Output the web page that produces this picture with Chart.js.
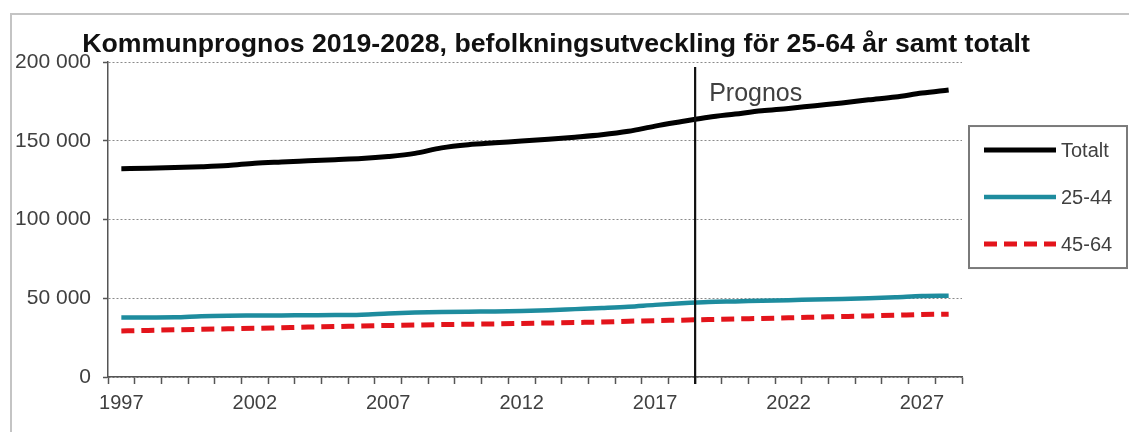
<!DOCTYPE html>
<html>
<head>
<meta charset="utf-8">
<script src="https://cdn.jsdelivr.net/npm/chart.js@4"></script>
<style>
	html, body { margin: 0; padding: 0; background: #fff; overflow: hidden; }
	#wrap { position: relative; width: 1129px; height: 432px; }
</style>
</head>
<body>
<div id="wrap"><canvas id="line-chart"></canvas></div>
<script>
const years = [
	'1997', '1998', '1999', '2000', '2001', '2002', '2003', '2004',
	'2005', '2006', '2007', '2008', '2009', '2010', '2011', '2012',
	'2013', '2014', '2015', '2016', '2017', '2018', '2019', '2020',
	'2021', '2022', '2023', '2024', '2025', '2026', '2027', '2028'
]
const totalt = [
	132300, 132500, 133000, 133500, 134300, 135800, 136600, 137300,
	138000, 138700, 140000, 142000, 145500, 147500, 148700, 149800,
	151000, 152300, 153800, 156000, 159300, 162200, 165000, 167000,
	169000, 170500, 172300, 174000, 176000, 177800, 180300, 182300
]
const ages2544 = [
	37800, 37800, 37900, 38600, 38900, 39000, 39100, 39200,
	39300, 39600, 40300, 40900, 41300, 41500, 41600, 41900,
	42400, 43100, 43800, 44600, 45800, 46800, 47600, 48000,
	48400, 48800, 49200, 49600, 50000, 50600, 51400, 51600
]
const ages4564 = [
	29200, 29600, 30000, 30300, 30600, 30900, 31300, 31700,
	32000, 32400, 32700, 33000, 33300, 33500, 33700, 34000,
	34300, 34600, 34900, 35400, 35800, 36100, 36500, 36900,
	37200, 37600, 38000, 38400, 38800, 39200, 39700, 39900
]
const yTicks = [0, 50000, 100000, 150000, 200000]
const lastActualYear = '2018'

const FONT = 'Liberation Sans, Arial, sans-serif'
const TEXT = '#404040'

Chart.defaults.font.family = FONT
Chart.defaults.font.size = 20
Chart.defaults.color = TEXT

// gray frame left and top, like the cropped picture
const framePlugin = {
	id: 'frame',
	afterDraw(chart) {
		const ctx = chart.ctx
		ctx.save()
		ctx.strokeStyle = '#c4c4c4'
		ctx.lineWidth = 2
		ctx.beginPath()
		ctx.moveTo(11, chart.height)
		ctx.lineTo(11, 14)
		ctx.lineTo(chart.width, 14)
		ctx.stroke()
		ctx.restore()
	}
}

// vertical line between actual values and the forecast
const prognosPlugin = {
	id: 'prognos',
	afterDatasetsDraw(chart) {
		const x = chart.scales.x
		const i = years.indexOf(lastActualYear)
		const px = (x.getPixelForValue(i) + x.getPixelForValue(i + 1)) / 2
		const area = chart.chartArea
		const ctx = chart.ctx
		ctx.save()
		ctx.strokeStyle = '#111'
		ctx.lineWidth = 2.2
		ctx.beginPath()
		ctx.moveTo(px, area.top + 5)
		ctx.lineTo(px, area.bottom + 7)
		ctx.stroke()
		ctx.fillStyle = TEXT
		ctx.font = '25px ' + FONT
		ctx.textBaseline = 'middle'
		ctx.fillText('Prognos', px + 14, area.top + 32)
		ctx.restore()
	}
}

// boxed legend to the right of the plot
const legendBoxPlugin = {
	id: 'legendBox',
	afterDraw(chart) {
		const area = chart.chartArea
		const ctx = chart.ctx
		const left = area.right + 7
		const top = area.top + 64
		ctx.save()
		ctx.strokeStyle = '#7a7a7a'
		ctx.lineWidth = 2
		ctx.strokeRect(left, top, 158, 142)
		chart.data.datasets.forEach((ds, i) => {
			const y = top + 24 + i * 47
			ctx.strokeStyle = ds.borderColor
			ctx.lineWidth = ds.borderWidth
			ctx.setLineDash(ds.borderDash || [])
			ctx.beginPath()
			ctx.moveTo(left + 15, y)
			ctx.lineTo(left + 87, y)
			ctx.stroke()
			ctx.setLineDash([])
			ctx.fillStyle = TEXT
			ctx.font = '20px ' + FONT
			ctx.textBaseline = 'middle'
			ctx.fillText(ds.label, left + 92, y + 1)
		})
		ctx.restore()
	}
}

new Chart(document.getElementById('line-chart'), {
	type: 'line',
	data: {
		labels: years,
		datasets: [
			{
				label: 'Totalt',
				data: totalt,
				borderColor: '#000',
				borderWidth: 5,
				pointRadius: 0,
				cubicInterpolationMode: 'monotone'
			},
			{
				label: '25-44',
				data: ages2544,
				borderColor: '#1e8c9e',
				borderWidth: 4.5,
				pointRadius: 0,
				cubicInterpolationMode: 'monotone'
			},
			{
				label: '45-64',
				data: ages4564,
				borderColor: '#e3141b',
				borderWidth: 5,
				borderDash: [13, 7],
				pointRadius: 0,
				cubicInterpolationMode: 'monotone'
			}
		]
	},
	options: {
		responsive: true,
		maintainAspectRatio: false,
		devicePixelRatio: 1,
		animation: false,
		layout: {
			padding: { top: 13, right: 17, left: 0, bottom: 0 }
		},
		plugins: {
			legend: { display: false },
			tooltip: { enabled: false },
			title: {
				display: true,
				text: 'Kommunprognos 2019-2028, befolkningsutveckling för 25-64 år samt totalt',
				color: '#111',
				font: { size: 26.7, weight: 'bold' },
				padding: { top: 16, bottom: 1 }
			}
		},
		scales: {
			x: {
				type: 'category',
				offset: true,
				grid: {
					offset: true,
					drawOnChartArea: false,
					drawTicks: true,
					tickLength: 7,
					tickColor: '#555',
					tickWidth: 1.5
				},
				border: { color: '#555', width: 1.5 },
				ticks: {
					autoSkip: false,
					maxRotation: 0,
					padding: 7,
					color: TEXT,
					callback: (v, i) => (i % 5 === 0 ? years[i] : '')
				},
				afterFit: (s) => { s.height = 55 }
			},
			y: {
				min: 0,
				max: 200000,
				grid: {
					color: '#8a8a8a',
					lineWidth: 1,
					tickLength: 5,
					tickColor: '#555',
					tickWidth: 1.5,
					tickBorderDash: []
				},
				border: { color: '#555', width: 1.5, dash: [2, 2] },
				afterBuildTicks: (s) => { s.ticks = yTicks.map((v) => ({ value: v })) },
				ticks: {
					padding: 12,
					color: TEXT,
					font: { size: 21 },
					callback: (v) => String(v).replace(/\B(?=(\d{3})+(?!\d))/g, ' ')
				},
				afterFit: (s) => { s.width = 108 }
			},
			spacer: {
				type: 'linear',
				position: 'right',
				display: true,
				grid: { display: false },
				border: { display: false },
				ticks: { display: false },
				afterFit: (s) => { s.width = 150 }
			}
		}
	},
	plugins: [framePlugin, prognosPlugin, legendBoxPlugin]
})
</script>
</body>
</html>
